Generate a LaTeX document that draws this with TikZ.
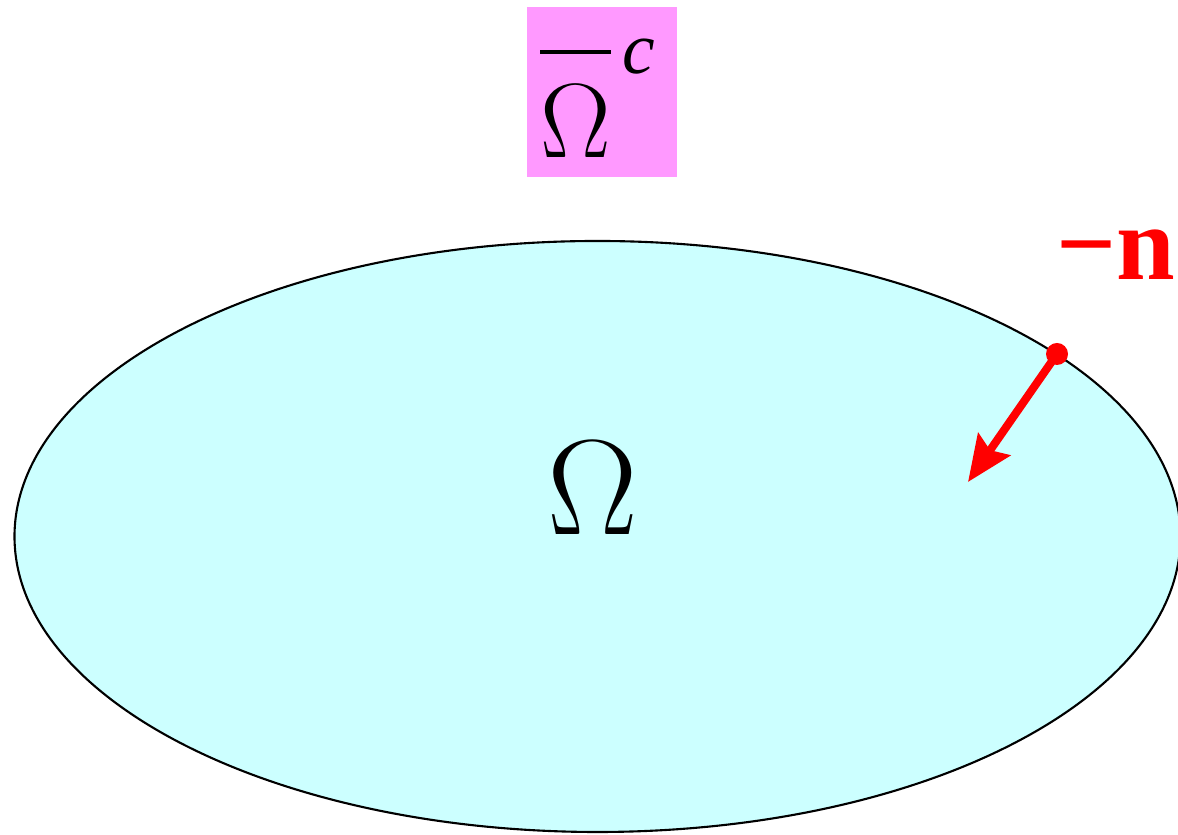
\documentclass[tikz,border=0pt]{standalone}
\usepackage{amsmath}
\usepackage{fontspec}
\setmainfont{Liberation Serif}
\usetikzlibrary{arrows.meta, positioning, calc}
\definecolor{domaincyan}{HTML}{CCFFFF}
\definecolor{closurepink}{HTML}{FF99FF}

\begin{document}
\begin{tikzpicture}
    % frame of the picture
    \clip (0,0) rectangle (11.78,8.35);

    % the domain
    \draw[fill=domaincyan, line width=0.6pt] (5.975,2.985) ellipse [x radius=5.83cm, y radius=2.955cm];
    \node[anchor=base, font=\fontsize{24.88}{30}\selectfont, scale=1.55, transform shape] (domain) at (5.93,3.0) {$\Omega$};

    % complement of the closure
    \node[fill=closurepink, minimum width=1.5cm, minimum height=1.7cm, inner sep=0pt] (closurebox) at (6.02,7.43) {};
    \node[font=\fontsize{20.74}{25}\selectfont, scale=1.45, transform shape, anchor=base, inner sep=0pt] (closure) at ($(closurebox.south)+(-0.03,0.2)$) {$\overline{\rule{0pt}{0.86em}\Omega}^{\,\textit{c}}$};

    % inward normal
    \coordinate (bdry) at (10.57,4.81);
    \coordinate (tip) at (9.68,3.53);
    \draw[red, line width=2.3pt, -{Stealth[length=13pt, width=11pt, inset=2pt]}] (bdry) -- (tip);
    \fill[red] (bdry) circle (0.11);
    \node[red, anchor=base, font=\fontsize{30}{34}\selectfont\bfseries] (normal) at (11.16,5.55) {−n};
\end{tikzpicture}
\end{document}
